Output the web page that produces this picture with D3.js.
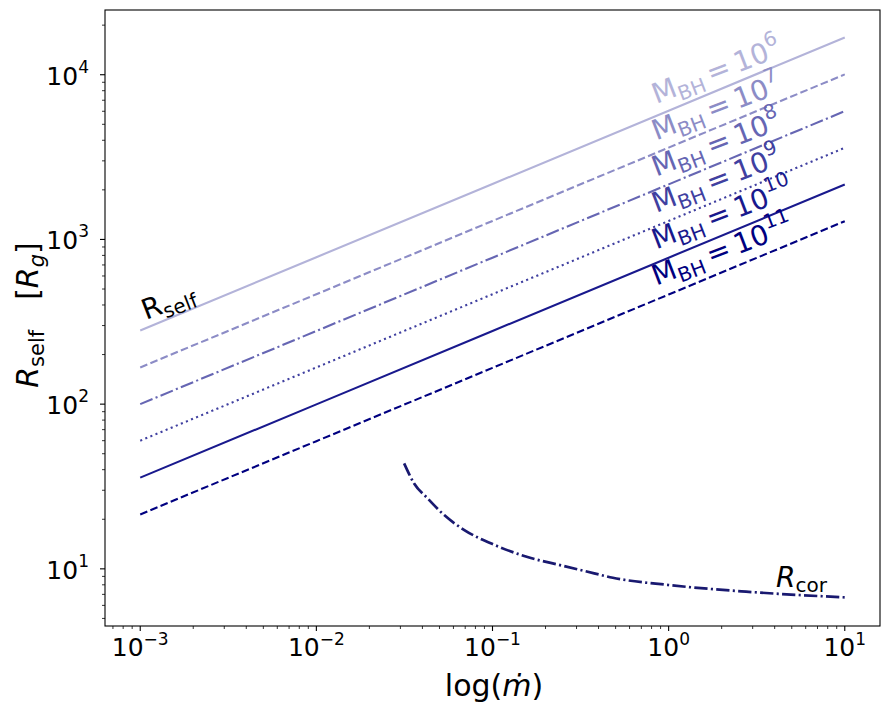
<!DOCTYPE html>
<html>
<head>
<meta charset="utf-8">
<script src="https://cdn.jsdelivr.net/npm/d3@7"></script>
<style>
  body { margin: 0; background: #fff; }
  svg { font-family: 'DejaVu Sans', sans-serif; }
</style>
</head>
<body>
<div id="chart"></div>
<script>
// accretion rate (mdot) sample points, one per decade
let mdot = [1e-3, 1e-2, 1e-1, 1, 10]

// self-gravity radius for each black hole mass
let rselfM6 = [280, 780, 2170, 6050, 16850]
let rselfM7 = [167, 465, 1295, 3610, 10050]
let rselfM8 = [100, 278, 775, 2160, 6010]
let rselfM9 = [60, 167, 465, 1295, 3600]
let rselfM10 = [35.8, 99.7, 278, 775, 2155]
let rselfM11 = [21.4, 59.6, 166, 463, 1290]

let massExp = ['6', '7', '8', '9', '10', '11']
let labelMdot = 0.85
let labelR = [6640, 3990, 2400, 1445, 870, 523]

// corona radius curve
let corMdot = [0.0315, 0.0359, 0.0428, 0.0532, 0.0692, 0.1023, 0.158, 0.245, 0.378, 0.482, 1.0, 2.75, 10]
let corR = [43.7, 33.0, 26.8, 21.2, 17.2, 14.0, 11.8, 10.5, 9.39, 8.83, 7.98, 7.27, 6.71]

let xTicks = [1e-3, 1e-2, 1e-1, 1, 10]
let xTickExp = ['\u22123', '\u22122', '\u22121', '0', '1']
let yTicks = [10, 100, 1000, 10000]
let yTickExp = ['1', '2', '3', '4']

let W = 890
let H = 715
let padL = 105, padT = 10, padR = 880, padB = 626

let svg = d3.select('#chart').append('svg').attr('width', W).attr('height', H)

let x = d3.scaleLog().domain([10 ** -3.2, 10 ** 1.2]).range([padL, padR])
let y = d3.scaleLog().domain([10 ** 0.653, 10 ** 4.393]).range([padB, padT])

let series = [rselfM6, rselfM7, rselfM8, rselfM9, rselfM10, rselfM11]
let alphas = [0.3, 0.45, 0.6, 0.75, 0.9, 1]
let colors = alphas.map(a => {
	let c = Math.round(255 * (1 - a))
	let b = Math.round(255 * (1 - a) + 128 * a)
	return `rgb(${c},${c},${b})`
})
let dashes = [null, '7.7,3.3', '13.3,3.3,2.1,3.3', '2.1,3.4', null, '7.7,3.3']

let line = d3.line().x(d => x(d[0])).y(d => y(d[1]))

svg.append('defs').append('clipPath').attr('id', 'clip')
	.append('rect').attr('x', padL).attr('y', padT).attr('width', padR - padL).attr('height', padB - padT)
let plot = svg.append('g').attr('clip-path', 'url(#clip)')

series.forEach((s, i) => {
	plot.append('path')
		.attr('d', line(mdot.map((m, j) => [m, s[j]])))
		.attr('fill', 'none')
		.attr('stroke', colors[i])
		.attr('stroke-width', 2.1)
		.attr('stroke-dasharray', dashes[i])
})

plot.append('path')
	.attr('d', d3.line().x(d => x(d[0])).y(d => y(d[1])).curve(d3.curveMonotoneX)(corMdot.map((m, j) => [m, corR[j]])))
	.attr('fill', 'none')
	.attr('stroke', '#191970')
	.attr('stroke-width', 2.7)
	.attr('stroke-dasharray', '13.3,3.3,2.1,3.3')

// mass labels along the lines
massExp.forEach((e, i) => {
	let t = svg.append('text')
		.attr('transform', `translate(${x(labelMdot)},${y(labelR[i])}) rotate(-21)`)
		.attr('fill', colors[i])
		.attr('font-size', 28)
	t.append('tspan').text('M')
	t.append('tspan').attr('font-size', 20).attr('dy', 6).text('BH')
	t.append('tspan').attr('dy', -6).text('\u2009=\u200910')
	t.append('tspan').attr('font-size', 20).attr('dy', -13).text(e)
})

// R_self label
let rs = svg.append('text')
	.attr('transform', `translate(146,320) rotate(-21)`)
	.attr('font-size', 28)
rs.append('tspan').text('R')
rs.append('tspan').attr('font-size', 20).attr('dy', 6).text('self')

// R_cor label
let rc = svg.append('text')
	.attr('x', 776).attr('y', 587)
	.attr('font-size', 28)
rc.append('tspan').attr('font-style', 'italic').text('R')
rc.append('tspan').attr('font-size', 20).attr('dy', 5).text('cor')

// minor ticks
let minorX = []
let minorY = []
for (let d = -4; d <= 1; d++) {
	for (let k = 2; k <= 9; k++) {
		let v = k * 10 ** d
		if (v > x.domain()[0] && v < x.domain()[1]) minorX.push(v)
	}
}
for (let d = 0; d <= 4; d++) {
	for (let k = 2; k <= 9; k++) {
		let v = k * 10 ** d
		if (v > y.domain()[0] && v < y.domain()[1]) minorY.push(v)
	}
}

let axes = svg.append('g').attr('stroke', '#000')
minorX.forEach(v => {
	axes.append('line').attr('x1', x(v)).attr('x2', x(v)).attr('y1', padB).attr('y2', padB + 3).attr('stroke-width', 0.8)
})
minorY.forEach(v => {
	axes.append('line').attr('y1', y(v)).attr('y2', y(v)).attr('x1', padL).attr('x2', padL - 3).attr('stroke-width', 0.8)
})
xTicks.forEach(v => {
	axes.append('line').attr('x1', x(v)).attr('x2', x(v)).attr('y1', padB).attr('y2', padB + 5).attr('stroke-width', 1.1)
})
yTicks.forEach(v => {
	axes.append('line').attr('y1', y(v)).attr('y2', y(v)).attr('x1', padL).attr('x2', padL - 5).attr('stroke-width', 1.1)
})

svg.append('rect')
	.attr('x', padL).attr('y', padT)
	.attr('width', padR - padL).attr('height', padB - padT)
	.attr('fill', 'none').attr('stroke', '#000').attr('stroke-width', 1.1)

// tick labels
xTicks.forEach((v, i) => {
	let t = svg.append('text')
		.attr('x', x(v)).attr('y', padB + 30)
		.attr('text-anchor', 'middle')
		.attr('font-size', 25)
	t.append('tspan').text('10')
	t.append('tspan').attr('font-size', 17).attr('dy', -11).text(xTickExp[i])
})
yTicks.forEach((v, i) => {
	let t = svg.append('text')
		.attr('x', padL - 16).attr('y', y(v) + 10)
		.attr('text-anchor', 'end')
		.attr('font-size', 25)
	t.append('tspan').text('10')
	t.append('tspan').attr('font-size', 17).attr('dy', -12).text(yTickExp[i])
})

// axis labels
let xl = svg.append('text')
	.attr('x', 494).attr('y', 696)
	.attr('text-anchor', 'middle')
	.attr('font-size', 30)
xl.append('tspan').text('log(')
xl.append('tspan').attr('font-style', 'italic').text('\u1E41')
xl.append('tspan').text(')')

let yl = svg.append('text')
	.attr('transform', `translate(38,315) rotate(-90)`)
	.attr('text-anchor', 'middle')
	.attr('font-size', 30)
yl.append('tspan').attr('font-style', 'italic').text('R')
yl.append('tspan').attr('font-size', 21).attr('dy', 6).text('self')
yl.append('tspan').attr('dy', -6).text('\u2003[')
yl.append('tspan').attr('font-style', 'italic').text('R')
yl.append('tspan').attr('font-style', 'italic').attr('font-size', 21).attr('dy', 6).text('g')
yl.append('tspan').attr('dy', -6).text(']')
</script>
</body>
</html>
